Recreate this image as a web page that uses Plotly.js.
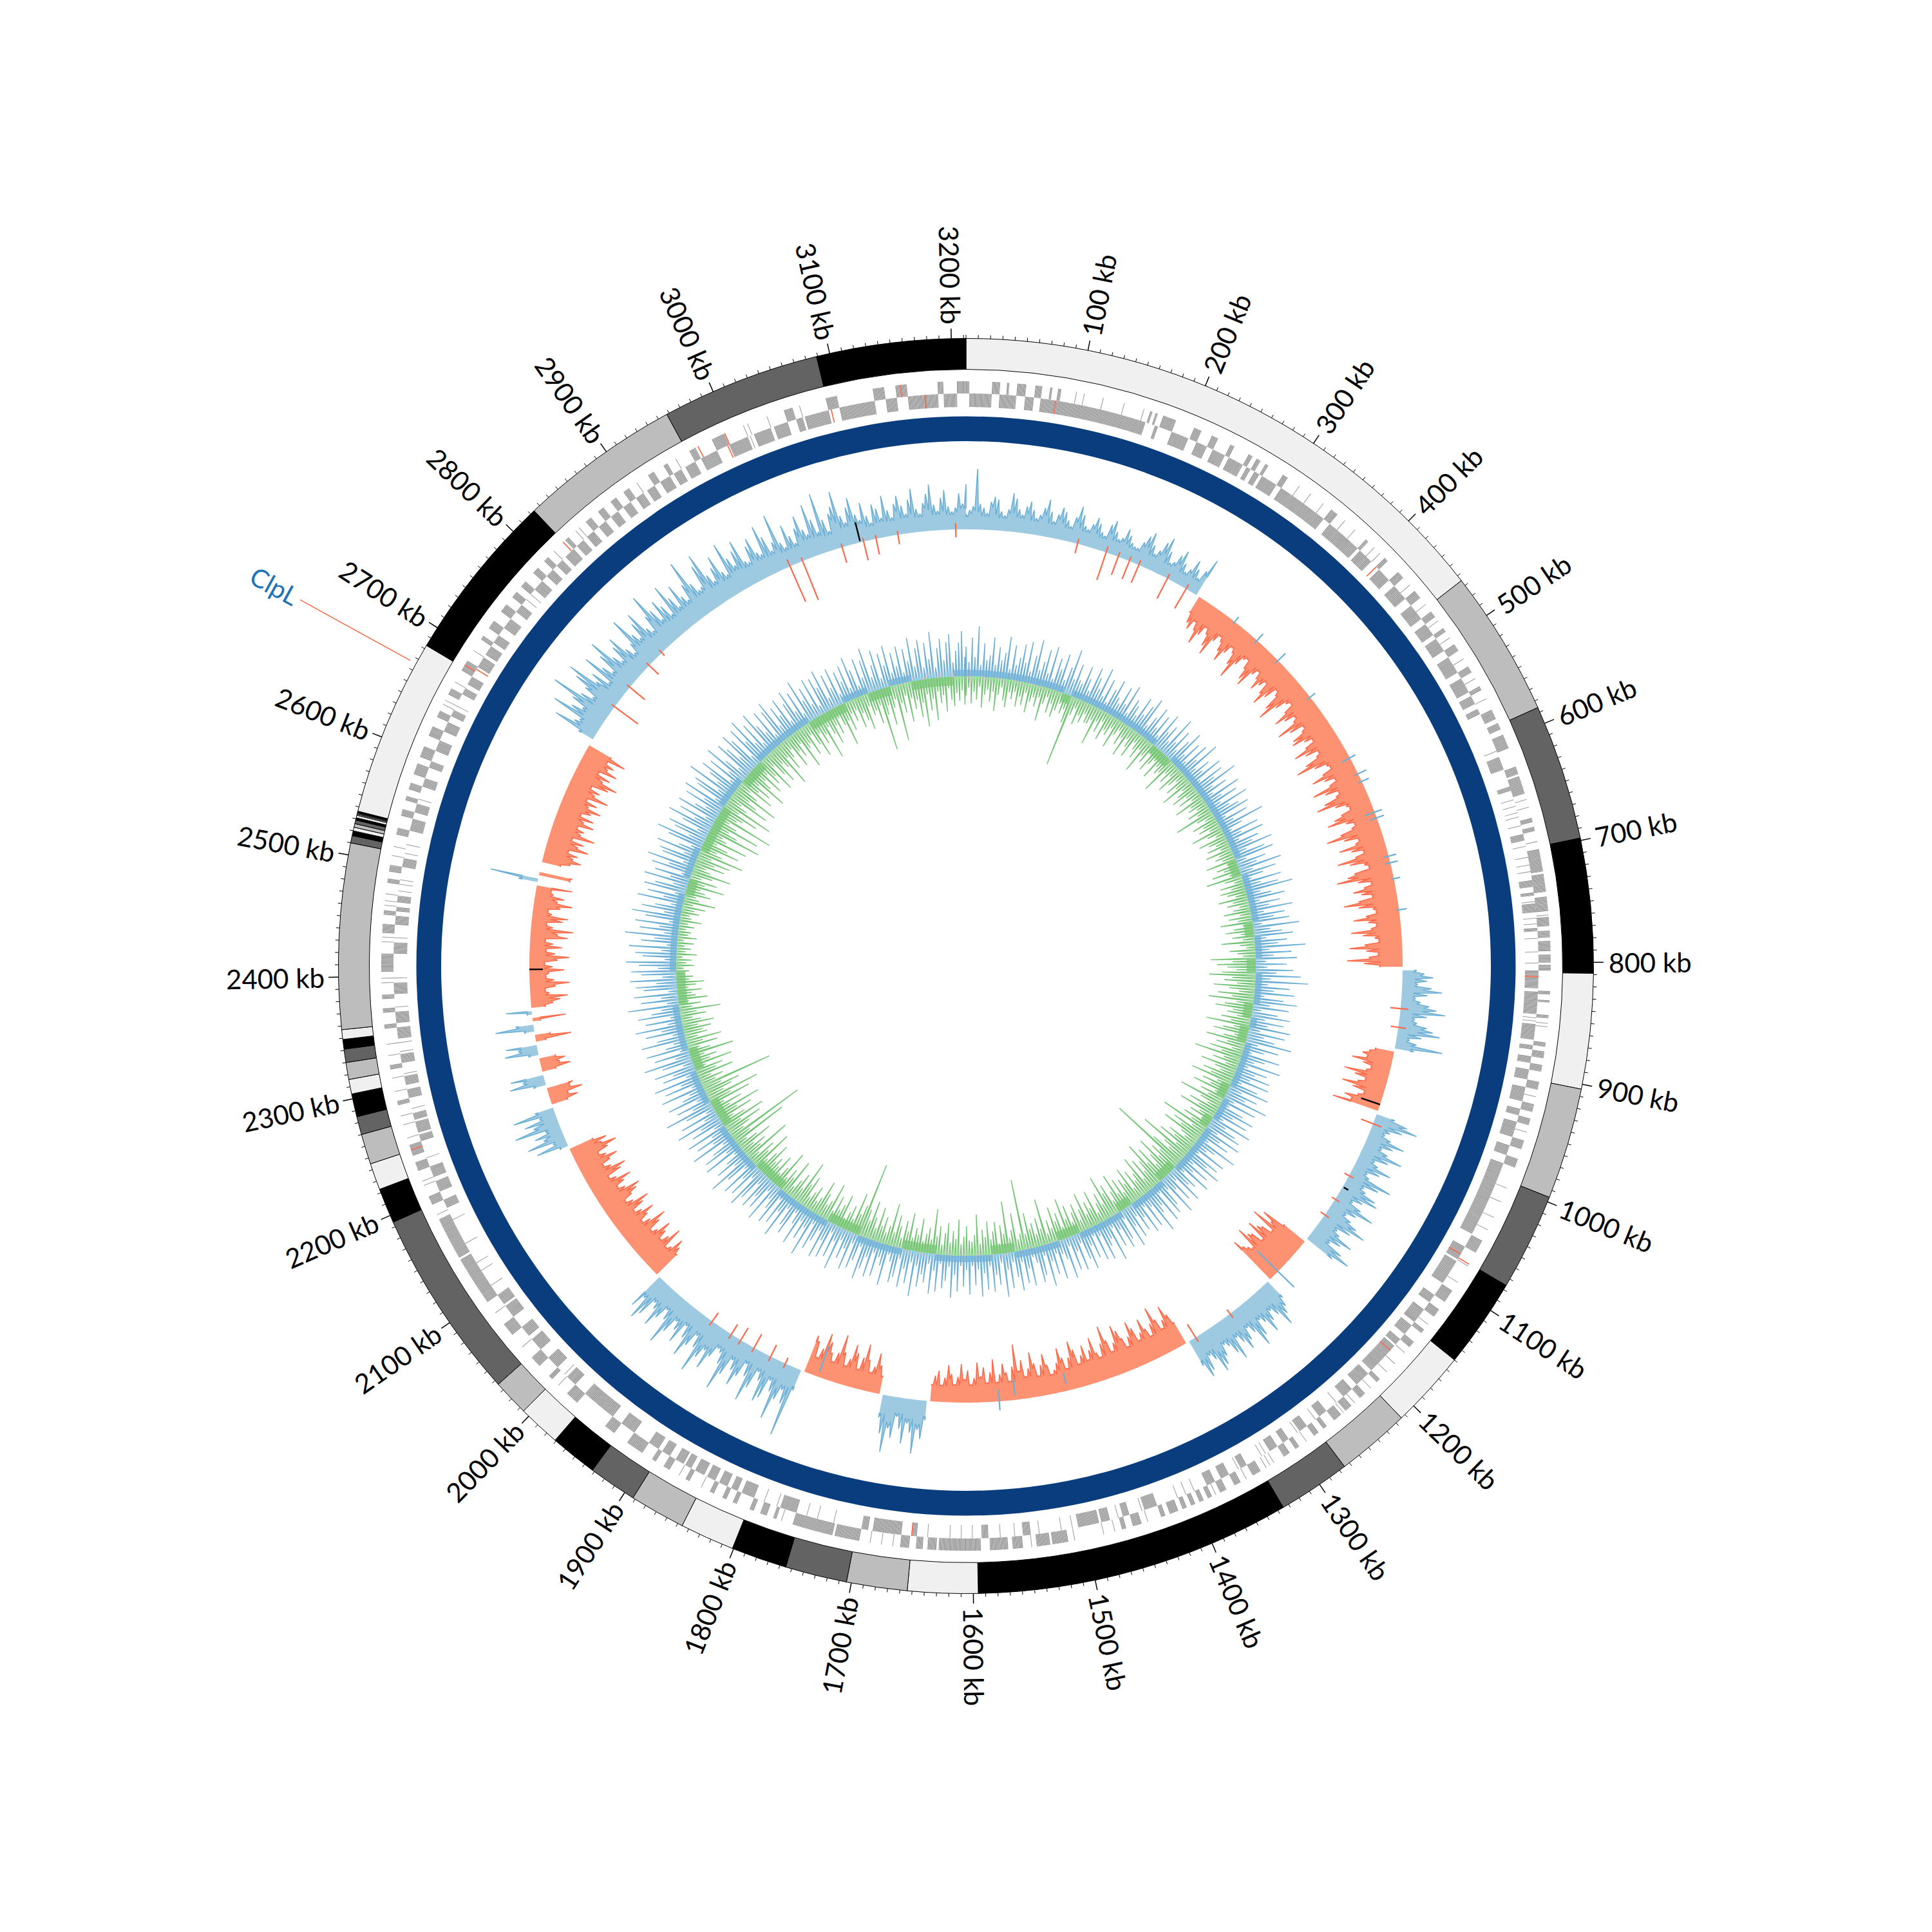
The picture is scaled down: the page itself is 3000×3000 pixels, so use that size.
<!DOCTYPE html>
<html><head><meta charset="utf-8">
<script src="https://cdn.plot.ly/plotly-3.0.1.min.js"></script>
<style>html,body{margin:0;padding:0;background:#fff}</style></head>
<body><div id="chart" style="width:3000px;height:3000px"></div>
<script>
const genomeKb = 3212;
const tickLabelKb = [100,200,300,400,500,600,700,800,900,1000,1100,1200,1300,1400,1500,1600,1700,1800,1900,2000,2100,2200,2300,2400,2500,2600,2700,2800,2900,3000,3100,3200];
const contigEnds = [465,586,698,809,904,996,1076,1150,1214,1275,1335,1596,1654,1704,1755,1801,1846,1892,1932,1971,2006,2036,2194,2223,2245,2270,2285,2304,2316,2330,2341,2349,2357,2510,2516,2520,2523,2526,2529,2531,2533,2534,2535,2536.5,2683,2824,2958,3089,3212];
const contigShades = ['#f0f0f0','#bdbdbd','#636363','#000000','#f0f0f0','#bdbdbd','#636363','#000000','#f0f0f0','#bdbdbd','#636363','#000000','#f0f0f0','#bdbdbd','#636363','#000000','#f0f0f0','#bdbdbd','#636363','#000000','#f0f0f0','#bdbdbd','#636363','#000000','#f0f0f0','#bdbdbd','#636363','#000000','#f0f0f0','#bdbdbd','#636363','#000000','#f0f0f0','#bdbdbd','#636363','#000000','#f0f0f0','#bdbdbd','#636363','#000000','#f0f0f0','#bdbdbd','#636363','#000000','#f0f0f0','#000000','#bdbdbd','#636363','#000000'];

const geneOuter = [[0,3],[23,30],[36,38],[45,53],[61,67],[74,76],[81,84],[164,166],[169,171],[176,188],[205,212],[222,228],[240,244],[258,262],[266,270],[275,278],[293,298],[345,352],[385,388],[408,412],[425,432],[447,455],[470,476],[488,492],[505,512],[528,534],[548,552],[571,580],[584,590],[595,608],[625,632],[634,650],[672,676],[680,684],[700,720],[722,738],[742,755],[760,768],[772,778],[781,790],[793,800],[802,807],[825,828],[833,835],[846,849],[870,874],[878,884],[890,896],[905,912],[925,932],[938,944],[958,966],[975,983],[1053,1065],[1104,1116],[1124,1132],[1146,1150],[1160,1166],[1204,1208],[1222,1228],[1238,1245],[1250,1258],[1266,1270],[1275,1280],[1296,1300],[1306,1312],[1336,1344],[1356,1362],[1370,1376],[1384,1388],[1392,1396],[1400,1404],[1408,1412],[1416,1424],[1428,1432],[1450,1458],[1464,1468],[1516,1530],[1532,1544],[1556,1565],[1569,1585],[1593,1630],[1632,1640],[1644,1650],[1656,1664],[1700,1722],[1724,1760],[1775,1778],[1784,1790],[1796,1800],[1812,1816],[1822,1826],[1834,1838],[1858,1862],[1878,1884],[1892,1896],[1906,1922],[1936,1946],[1978,1990],[2008,2012],[2024,2034],[2060,2072],[2096,2140],[2142,2180],[2194,2202],[2226,2234],[2240,2250],[2286,2290],[2318,2322],[2354,2358],[2368,2372],[2380,2384],[2404,2420],[2438,2446],[2454,2458],[2482,2486],[2492,2498],[2525,2531],[2542,2548],[2556,2560],[2566,2572],[2580,2590],[2596,2606],[2616,2625],[2634,2640],[2656,2662],[2680,2690],[2712,2716],[2724,2732],[2742,2750],[2758,2764],[2770,2776],[2786,2792],[2800,2805],[2826,2830],[2850,2856],[2864,2870],[2878,2884],[2892,2898],[2918,2924],[2934,2938],[2960,2966],[2982,2994],[3050,3058],[3088,3098],[3130,3140],[3150,3160],[3187,3192],[3204,3212]];
const geneInner = [[3,23],[30,45],[53,61],[67,163],[172,175],[188,204],[212,222],[228,240],[244,258],[262,266],[270,275],[278,293],[298,345],[352,385],[388,402],[412,425],[432,447],[455,470],[476,488],[492,505],[512,528],[534,548],[552,560],[565,570],[612,624],[640,644],[684,690],[726,732],[737,740],[747,755],[769,772],[807,823],[826,846],[855,869],[874,878],[884,890],[896,905],[912,925],[932,938],[944,958],[966,975],[983,1052],[1065,1078],[1080,1103],[1116,1124],[1132,1146],[1150,1160],[1166,1172],[1174,1204],[1208,1222],[1228,1238],[1258,1266],[1280,1288],[1300,1306],[1312,1320],[1344,1350],[1362,1370],[1376,1384],[1432,1444],[1458,1464],[1476,1484],[1486,1505],[1548,1555],[1586,1592],[1650,1655],[1664,1690],[1694,1700],[1760,1775],[1800,1812],[1816,1822],[1826,1834],[1838,1846],[1849,1858],[1862,1868],[1870,1878],[1884,1892],[1896,1906],[1922,1936],[1946,1978],[1990,2000],[2012,2024],[2034,2046],[2050,2060],[2072,2084],[2086,2096],[2186,2194],[2202,2212],[2216,2226],[2250,2256],[2258,2268],[2270,2276],[2290,2298],[2302,2310],[2322,2330],[2344,2354],[2358,2368],[2384,2394],[2420,2430],[2446,2454],[2458,2462],[2466,2472],[2498,2506],[2531,2542],[2548,2556],[2572,2580],[2590,2596],[2606,2616],[2625,2634],[2640,2646],[2662,2668],[2672,2680],[2690,2700],[2703,2712],[2716,2724],[2732,2742],[2750,2758],[2776,2786],[2792,2800],[2805,2812],[2816,2826],[2830,2838],[2842,2850],[2856,2864],[2870,2878],[2884,2892],[2898,2906],[2910,2918],[2924,2934],[2938,2946],[2950,2960],[2966,2982],[2994,3012],[3018,3034],[3037,3050],[3058,3064],[3066,3088],[3098,3130],[3140,3150],[3160,3187],[3192,3204]];
const thinOuterKb = [97,104,121,140,158,310,322,336,360,372,395,402,440,462,480,498,520,540,560,655,662,693,758,853,856,918,950,1002,1015,1030,1042,1078,1095,1140,1172,1185,1195,1215,1234,1247,1288,1322,1326,1330,1350,1380,1444,1474,1484,1510,1548,1670,1680,1690,1770,1846,1868,2000,2046,2084,2184,2212,2216,2256,2268,2276,2298,2310,2330,2340,2394,2398,2430,2434,2462,2466,2472,2506,2514,2646,2650,2668,2700,2812,2838,2842,2906,2946,3012,3016,3034,3064];
const thinInnerKb = [606,652,658,664,668,676,695,705,712,718,745,760,765,778,790,800,849,852,1246,1270,1290,1324,1328,1352,1396,1404,1412,1446,1468,1510,1520,1540,1562,1575,1600,1610,1620,1640,1725,1740,1750,1778,1790,2003,2106,2122,2130,2150,2174,2234,2280,2312,2332,2340,2372,2398,2434,2476,2482,2486,2510,2518,2560,2650,2764,2770,3014];
const redGeneOuterKb = [1076,2245,2685,2823,2968,2994,3154];
const redGeneInnerKb = [80,408,812,1072,1179,1654,2687,2992,3090,3175];

const gcBinKb = 4;
const gcValues = [
24,30,36,94,40,34,26,44,52,48,30,24,34,60,52,36,28,42,50,38,26,32,44,58,40,
26,38,50,44,32,24,40,58,46,30,26,36,48,40,28,24,44,52,36,26,30,46,38,28,24,
24,36,48,56,38,26,34,50,60,40,24,28,42,52,34,22,30,48,36,24,40,62,-28,-44,-52,
-36,-48,-68,-50,-34,-42,-60,-72,-44,-32,-38,-52,-66,-48,-34,-40,-58,-78,-50,-36,-32,-46,-62,-70,-44,
-34,-44,-60,-48,-38,-56,-72,-54,-34,-40,-64,-80,-52,-36,-30,-46,-68,-54,-38,-44,-76,-58,-36,-42,-62,
-66,-48,-36,-52,-74,-58,-38,-44,-66,-84,-56,-38,-34,-50,-70,-52,-36,-48,-78,-60,-40,-46,-68,-82,-54,
-38,-34,-50,-64,-76,-48,-36,-42,-62,-86,-60,-38,-44,-72,-54,-36,-50,-80,-62,-40,-34,-58,-70,-88,-56,
-36,-48,-66,-54,-38,-60,-84,-62,-40,-36,-52,-72,-50,-38,-46,-78,-60,-42,-36,-58,-82,-56,-38,-52,-86,
-60,-36,22,34,48,38,24,46,62,40,22,30,44,56,70,42,24,28,44,54,66,38,20,32,74,
30,-30,-38,-48,-40,-62,-44,-30,-36,-70,-52,-34,-44,-68,-50,-30,-38,-58,-46,-74,30,52,70,48,30,
24,36,60,44,28,40,66,46,26,34,58,42,24,30,70,52,30,36,56,62,40,26,44,68,42,
28,40,54,72,50,30,38,64,48,32,58,76,50,-42,-78,-60,-90,-50,-66,-72,-84,-52,-70,-74,-88,
-54,-60,-66,-80,34,46,56,72,48,36,50,66,44,36,60,74,46,34,52,64,48,36,70,56,40,
34,50,62,70,46,36,58,66,44,-38,-54,-70,-50,-38,-56,-78,-54,-36,-50,-68,-48,-38,-60,-72,-50,
-36,-52,-66,-76,-50,-38,-58,-82,-56,-36,-44,-70,-52,-38,-62,-48,-36,-60,-74,-50,-34,-52,-68,-46,-36,
-30,-46,-64,-48,-32,-52,-70,-46,-34,-60,-44,-86,-52,-30,-44,-58,-42,-30,-66,-46,-30,-54,-40,-62,-38,
-28,-50,-36,-60,-40,-28,-44,-58,-38,-26,-48,-40,-26,30,60,46,84,52,38,70,48,30,64,50,88,
60,36,-28,-44,-62,-40,-30,-48,-72,-50,-30,-54,-66,-42,-30,-50,-76,-46,-30,-42,-58,-70,-44,-28,-52,
-60,34,110,60,40,58,92,50,34,66,74,42,30,60,84,46,28,52,70,48,34,62,90,50,34,
30,48,72,44,60,88,50,32,54,76,48,30,64,46,34,58,82,44,30,50,68,42,34,62,74,
40,60,-44,-54,-64,-46,-40,-72,-54,-42,-56,-68,-48,-40,-60,-74,-50,-38,-52,-66,-48,-38,-58,-70,-46,
-36,-50,-62,-70,-48,-38,-52,-66,-44,-34,-58,-68,-46,-36,-50,-64,-48,-38,-56,-72,-50,-60,-40,14,50,
20,60,32,44,24,72,40,52,26,66,30,-26,-44,-30,-54,-36,-42,20,56,34,52,-22,-46,-30,-40,
-26,16,52,30,48,-16,-56,-24,16,60,28,-12,-52,8,40,-22,-34,-46,-58,-30,-24,-40,-62,-38,-26,
-30,-54,-36,-24,-44,-62,-40,-26,-50,-36,-24,-58,-42,-66,-34,-24,-48,-56,-30,-24,-42,-60,-36,-46,-28,
-24,-56,30,75,-50,-52,0,0,-30,-44,-60,-46,-52,-36,-66,-48,-56,-36,-70,-46,-50,-38,-62,-44,-58,
-36,-50,-64,-42,-54,-36,-68,-44,-50,-34,-60,-72,-46,-56,-34,-62,-44,-52,-38,-66,-40,0,26,70,40,
34,84,56,40,62,100,54,36,54,76,92,46,58,30,80,52,36,66,88,50,36,60,72,44,30,
44,86,52,40,64,78,44,34,58,92,60,38,68,54,34,82,56,36,70,46,36,60,96,54,38,
40,74,90,50,36,56,72,42,34,84,56,40,62,76,38,34,58,68,42,36,80,60,34,46,88,
40,30,64,44,30,52,70,46,36,82,56,34,94,50,30,56,66,88,48,36,58,72,44,34,60,
38,26,54,46,30,64,40,28,48,60,44,30,52,68,36,28,44,58,72,40,30,50,62,36,28,
34,56,40,70];
const gcRedKb   = [132,167,182,196,208,245,270,853,875,992,1059,1091,1113,1274,1323,1824,1843,1865,1883,1896,1923,2734,2763,2797,2818,3000,3016,3065,3091,3106,3132,3200];
const gcRedFrom = [8,10,8,8,8,8,8,12,12,14,8,8,8,8,8,8,8,8,8,8,8,6,6,6,6,12,6,6,6,6,6,10];
const gcRedTo   = [-15,-45,-30,-30,-30,-35,-35,-16,-12,-20,-8,-6,-8,-8,-24,-10,-20,-24,-22,-18,-16,-45,-30,-20,-6,-60,-65,-25,-30,-25,-15,-12];
const gcBlueKb   = [339,373,407,464,549,570,580,619,626,673,681,700,737,1199,1486,1548,1567,1783];
const gcBlueFrom = [-4,-6,-6,-6,-14,-6,-6,-16,-12,-8,-8,-4,-4,-45,-28,-32,-18,-50];
const gcBlueTo   = [10,14,16,10,10,14,12,12,12,12,12,10,12,35,-10,-7,14,-8];
const gcBlackKb   = [968,1074,2405,3087];
const gcBlackFrom = [-31,2,-21,2];
const gcBlackTo   = [0,10,0,32];

const skewBinKb = 5;
const skewUp = [
46,22,60,30,78,18,52,26,34,62,20,48,28,40,66,16,54,24,36,58,
30,64,18,44,70,24,38,58,22,66,16,50,34,60,20,42,72,26,52,28,
24,54,36,18,58,44,28,64,20,50,14,38,56,30,22,52,26,60,16,42,
34,20,54,28,46,62,18,36,56,24,48,16,58,30,44,20,66,26,50,18,
40,60,22,48,16,54,30,66,20,42,26,56,14,52,34,70,24,46,18,62,
28,52,20,64,30,44,58,16,50,24,72,34,14,56,26,60,18,48,36,66,
22,50,62,16,46,30,68,20,56,34,14,60,26,52,74,22,38,58,18,48,
30,66,20,52,34,58,14,72,26,44,60,18,50,36,78,22,56,28,64,16,
48,18,58,32,70,24,82,20,54,30,62,16,46,68,26,56,14,40,60,22,
52,28,64,18,58,26,44,72,20,54,32,14,60,38,22,66,16,48,30,56,
26,58,16,44,64,22,50,32,70,18,56,14,40,60,28,54,16,66,26,46,
56,20,62,30,48,16,68,34,22,58,14,54,38,64,18,50,26,60,16,44,
34,60,16,50,26,66,18,44,56,14,62,30,40,70,22,54,16,58,28,48,
20,54,32,64,14,46,58,24,50,16,68,30,40,60,18,56,14,48,26,62,
44,16,58,26,54,14,64,32,22,60,18,50,28,66,16,46,56,24,14,58,
30,52,18,62,40,16,56,26,68,14,48,32,58,18,54,28,64,22,46,16,
60,22,48,16,56,30,66,18,40,52,14,58,26,62,16,46,34,54,22,70,
18,52,30,60,16,46,56,24,14,64,34,22,54,18,58,28,48,66,16,40,
54,16,60,28,46,18,68,24,52,14,58,32,62,20,40,56,16,72,28,50,
22,64,32,16,56,44,18,70,30,54,14,60,38,24,66,16,52,34,58,18,
50,68,18,56,28,62,16,46,74,24,54,32,14,64,22,58,40,18,70,30,
56,26,66,16,52,34,72,22,60,14,46,78,30,54,18,64,38,24,68,16,
58,30,72,18,54,36,64,16,48,76,24,56,14,66,34,20,70,44,18,60,
34,74,22,56,16,66,44,28,80,18,58,26,68,14,52,64,32,72,22,54,
70,28,58,78,18,52,64,24,74,16,56,36,82,22,60,30,68,16,54,76,
26,62,42,18,72,32,58,16,66,50,22,70,30,56,14,64,38,74,18,54,
60,22,68,34,16,56,76,26,52,64,18,46,72,30,58,16,66,40,24,62,
32,70,18,54,62,22,78,30,48,66,16,58,26,72,40,18,64,50,28,68,
54,16,66,38,74,26,58,18,70,44,28,62,16,56,68,22,52,34,60,18,
46,64,26,56,16,70,34,52,22,62,14,58,40,66,18,54,30,60,16,50,
32,56,18,66,44,16,58,26,52,70,22,40,62,16,54,34,64,20,50,28,
58,16,52,32,68,22,50,62,18,56,30,72,16,46,60,26,54,66,22,40,
52,70,30];
const skewDown = [
30,18,42,24,36,16,48,28,20,38,22,52,26,14,34,44,20,30,18,40,
24,36,16,46,28,20,34,18,54,26,14,38,22,42,30,18,32,24,44,112,
28,16,40,24,34,18,30,30,22,60,20,36,16,44,26,32,18,48,24,14,
36,22,50,18,30,44,16,26,38,20,56,24,34,14,42,28,18,46,22,32,
26,58,20,34,18,44,28,16,38,24,52,18,30,42,20,36,16,48,24,30,
18,36,22,62,28,16,40,24,34,18,50,26,14,44,30,20,36,16,42,22,
30,20,48,16,34,24,44,18,56,28,14,38,22,40,30,18,46,24,34,16,
26,42,18,36,22,50,16,30,44,20,34,18,52,24,14,40,28,20,70,36,
60,44,30,52,72,36,48,28,64,40,24,56,34,70,26,44,58,30,38,22,
46,30,68,24,40,54,20,36,62,28,44,18,52,32,74,26,42,20,58,34,
24,50,36,66,22,44,30,56,18,40,26,70,34,20,48,30,60,24,38,16,
44,28,76,22,52,36,64,30,20,46,34,58,24,84,40,28,56,125,36,48,
30,66,40,24,58,34,72,44,28,52,20,62,36,26,46,18,56,32,42,22,
48,26,60,34,20,50,38,68,24,44,30,16,54,28,40,22,58,34,18,46,
34,20,48,28,62,18,42,30,54,22,36,16,72,26,44,20,38,30,56,24,
110,26,18,60,34,22,80,30,44,16,50,36,24,52,28,40,18,64,32,22,
24,46,30,18,56,26,38,20,50,34,16,44,28,70,22,40,30,18,52,26,
36,20,58,28,44,16,34,50,22,66,30,18,42,26,54,20,36,60,28,44,
117,48,32,64,20,40,28,16,52,34,24,44,18,60,30,22,38,56,26,18,
40,28,18,50,34,70,22,44,30,16,58,26,38,20,62,32,18,46,24,36,
26,54,36,20,66,30,44,18,76,28,40,22,56,34,18,90,30,125,24,38,
60,28,70,40,22,56,34,74,26,48,20,66,36,84,28,44,58,30,114,24,
38,20,58,32,44,18,62,28,40,22,70,34,18,48,26,56,20,36,30,44,
24,50,30,18,40,26,64,20,34,16,46,28,22,38,18,30,42,20,26,14,
20,12,28,16,24,10,32,14,22,12,26,10,30,16,20,12,24,14,34,18,
14,28,20,36,16,50,24,18,40,30,22,58,26,44,18,34,62,28,20,48,
30,54,22,72,36,26,60,40,20,68,32,24,84,44,28,76,36,22,92,30,
38,60,26,80,34,22,66,44,28,74,36,20,58,30,48,24,70,40,26,54,
22,44,32,62,20,40,56,26,36,70,24,48,30,18,52,28,40,20,64,34,
28,50,18,38,60,24,44,30,72,22,36,54,26,42,18,32,66,28,46,20,
34,18,48,26,40,56,20,36,30,52,24,97,42,28,60,34,22,88,30,46,
20,62,26,44,30,58,36,74,24,50,32,66,22,40,28,54,18,36,46,26,
38,22,44];
const skewBandStart = [0,175,190,360,400,610,640,725,750,790,815,870,895,912,940,1020,1045,1085,1105,1195,1230,1295,1320,1400,1440,1520,1560,1660,1720,1800,1860,1960,2020,2110,2160,2220,2260,2340,2400,2537,2566,2621,2707,2762,2808,2919,2991,3036,3076,3115,3191];
const skewBandEnd   = [175,190,360,400,610,640,725,750,790,815,870,895,912,940,1020,1045,1085,1105,1195,1230,1295,1320,1400,1440,1520,1560,1660,1720,1800,1860,1960,2020,2110,2160,2220,2260,2340,2400,2537,2566,2621,2707,2762,2808,2919,2991,3036,3076,3115,3191,3212];
const skewBandUp    = [1,0,1,0,1,0,1,0,1,0,1,0,1,0,1,0,1,0,1,0,1,0,1,0,1,0,1,0,1,0,1,0,1,0,1,0,1,0,1,0,1,0,1,0,1,0,1,0,1,0,1];
const markerKb = 2666;
const markerLabel = 'ClpL';

const BLUE_FILL='#9ecae1',BLUE_LINE='#6baed6',RED_FILL='#fc9272',RED_LINE='#fb6a4a',GREEN_FILL='#a1d99b',GREEN_LINE='#74c476',GENE='#9e9e9e',RING='#0a3d7e';
const R={ringOut:974.5,ringIn:926.5,tickMinor:980,tickMajor:990,geneTop:908,geneMid:889,geneBot:868,coreOut:853.5,coreIn:815,gc:678,skew:450,bandUp:10,bandDown:14,mOut:1180,mIn:985};
const STYLE={geneHatchKb:1.3,geneHatchGapKb:0.15,thinKb:0.6,gcBandUp:0.8,gcBandDown:0.95,spikeHalfKb:1.2};
const deg=kb=>kb/genomeKb*360;
const traces=[];

function bars(starts,ends,base,thick,color,extra){
  traces.push(Object.assign({type:'barpolar',hoverinfo:'skip',
    theta:starts.map((s,i)=>deg((s+ends[i])/2)),
    width:starts.map((s,i)=>deg(ends[i]-s)),
    r:starts.map(()=>thick),base:starts.map(()=>base),
    marker:{color:color,line:{width:0}}},extra||{}));
}
// outer contig ring
const contigStarts=contigEnds.map((e,i)=>i?contigEnds[i-1]:0);
traces.push({type:'barpolar',hoverinfo:'skip',theta:contigStarts.map((s,i)=>deg((s+contigEnds[i])/2)),width:contigStarts.map((s,i)=>deg(contigEnds[i]-s)),
  r:contigStarts.map(()=>R.ringOut-R.ringIn),base:contigStarts.map(()=>R.ringIn),marker:{color:contigShades,line:{color:'#000',width:1}}});
// genes: each block is drawn with the fine striping seen in the picture
function geneBars(blocks,thin,base,thick){
  const st=[],en=[];
  blocks.forEach(([s,e])=>{for(let a=s;a<e;a+=STYLE.geneHatchKb){st.push(a);en.push(Math.min(e,a+STYLE.geneHatchKb-STYLE.geneHatchGapKb));}});
  thin.forEach(k=>{st.push(k);en.push(k+STYLE.thinKb);});
  bars(st,en,base,thick,GENE);
}
geneBars(geneOuter,thinOuterKb,R.geneMid,R.geneTop-R.geneMid);
geneBars(geneInner,thinInnerKb,R.geneBot,R.geneMid-R.geneBot);
bars(redGeneOuterKb,redGeneOuterKb.map(k=>k+1),R.geneMid,R.geneTop-R.geneMid,RED_LINE);
bars(redGeneInnerKb,redGeneInnerKb.map(k=>k+1),R.geneBot,R.geneMid-R.geneBot,RED_LINE);
// solid core ring
bars([0],[genomeKb],R.coreIn,R.coreOut-R.coreIn,RING);
// skew bands
const upIdx=skewBandUp.map((u,i)=>u?i:-1).filter(i=>i>=0),dnIdx=skewBandUp.map((u,i)=>u?-1:i).filter(i=>i>=0);
bars(upIdx.map(i=>skewBandStart[i]),upIdx.map(i=>skewBandEnd[i]),R.skew,R.bandUp,BLUE_FILL);
bars(dnIdx.map(i=>skewBandStart[i]),dnIdx.map(i=>skewBandEnd[i]),R.skew-R.bandDown,R.bandDown,GREEN_FILL);

// ticks
function radialSegments(kbs,from,to,color,width){
  const th=[],r=[];
  kbs.forEach((k,i)=>{const f=Array.isArray(from)?from[i]:from,t=Array.isArray(to)?to[i]:to;th.push(deg(k),deg(k),null);r.push(f,t,null);});
  traces.push({type:'scatterpolar',mode:'lines',hoverinfo:'skip',theta:th,r:r,line:{color:color,width:width,simplify:false}});
}
const minorKb=[];for(let k=0;k<genomeKb;k+=10) if(k%100) minorKb.push(k);
minorKb.push(0);
radialSegments(minorKb,R.ringOut,R.tickMinor,'#000',1);
radialSegments(tickLabelKb,R.ringOut,R.tickMajor,'#000',1.5);
radialSegments([markerKb],R.mIn,R.mOut,RED_LINE,1.5);

// GC track: each bin is a spike rising from a band below the local minimum
function gcRuns(sign,bandFactor){
  const ft=[],fr=[],lt=[],lr=[];let i=0;const n=gcValues.length;
  while(i<n){
    if(gcValues[i]*sign<=0){i++;continue;}
    let j=i;while(j+1<n&&gcValues[j+1]*sign>0)j++;
    const bandAt=k=>{let m=Math.abs(gcValues[k]);if(k>i)m=Math.min(m,Math.abs(gcValues[k-1]));if(k<j)m=Math.min(m,Math.abs(gcValues[k+1]));return m*bandFactor*sign;};
    const pts=[];
    pts.push([i*gcBinKb,bandAt(i)]);
    for(let k=i;k<=j;k++){
      if(k>i)pts.push([k*gcBinKb-gcBinKb/2,bandAt(k)]);
      pts.push([k*gcBinKb,gcValues[k]]);
    }
    pts.push([j*gcBinKb,bandAt(j)]);
    pts.forEach(p=>{ft.push(deg(p[0]));fr.push(R.gc+p[1]);lt.push(deg(p[0]));lr.push(R.gc+p[1]);});
    for(let k=j;k>=i;k--){ft.push(deg(k*gcBinKb));fr.push(R.gc);}
    ft.push(null);fr.push(null);lt.push(null);lr.push(null);
    i=j+1;
  }
  return {ft,fr,lt,lr};
}
[[1,BLUE_FILL,BLUE_LINE,STYLE.gcBandUp],[-1,RED_FILL,RED_LINE,STYLE.gcBandDown]].forEach(([s,fc,lc,bf])=>{
  const g=gcRuns(s,bf);
  traces.push({type:'scatterpolar',mode:'lines',fill:'toself',fillcolor:fc,hoverinfo:'skip',theta:g.ft,r:g.fr,line:{width:0,simplify:false}});
  traces.push({type:'scatterpolar',mode:'lines',hoverinfo:'skip',theta:g.lt,r:g.lr,line:{color:lc,width:1.5,simplify:false}});
});
radialSegments(gcRedKb,gcRedFrom.map(v=>R.gc+v),gcRedTo.map(v=>R.gc+v),RED_LINE,2.2);
radialSegments(gcBlueKb,gcBlueFrom.map(v=>R.gc+v),gcBlueTo.map(v=>R.gc+v),BLUE_LINE,2.2);
radialSegments(gcBlackKb,gcBlackFrom.map(v=>R.gc+v),gcBlackTo.map(v=>R.gc+v),'#000',2.4);

// skew spikes
function skewSpikes(values,sign,color){
  const th=[],r=[],hw=STYLE.spikeHalfKb;
  values.forEach((v,i)=>{const k=i*skewBinKb;th.push(deg(k-hw),deg(k),deg(k+hw),null);r.push(R.skew,R.skew+sign*v,R.skew,null);});
  traces.push({type:'scatterpolar',mode:'lines',hoverinfo:'skip',theta:th,r:r,line:{color:color,width:1.4,simplify:false}});
}
skewSpikes(skewUp,1,BLUE_LINE);
skewSpikes(skewDown,-1,GREEN_LINE);

// labels
const labelFont={family:"Lato,'Liberation Sans',sans-serif",size:42,color:'#000'};
const annotations=tickLabelKb.map(k=>{
  const t=deg(k),txt=k+' kb',rad=t*Math.PI/180,rc=1000+txt.length*20.8/2;
  return {xref:'paper',yref:'paper',x:0.5+rc*Math.sin(rad)/3000,y:0.5+rc*Math.cos(rad)/3000,text:txt,showarrow:false,xanchor:'center',yanchor:'middle',
    textangle:t<=180?t-90:t-270,font:labelFont};
});
const mt=deg(markerKb),mrad=mt*Math.PI/180;
annotations.push({xref:'paper',yref:'paper',x:0.5+1225*Math.sin(mrad)/3000,y:0.5+1225*Math.cos(mrad)/3000,text:markerLabel,showarrow:false,xanchor:'center',yanchor:'middle',textangle:mt-270,font:{family:labelFont.family,size:40,color:'#2171b5'}});

Plotly.newPlot('chart',traces,{
  width:3000,height:3000,margin:{l:0,r:0,t:0,b:0},showlegend:false,paper_bgcolor:'#fff',annotations:annotations,
  polar:{domain:{x:[0,1],y:[0,1]},bgcolor:'rgba(0,0,0,0)',barmode:'overlay',bargap:0,
    radialaxis:{range:[0,1500],visible:false},
    angularaxis:{visible:false,direction:'clockwise',rotation:90,thetaunit:'degrees'}}
},{staticPlot:true,displayModeBar:false});
</script></body></html>
